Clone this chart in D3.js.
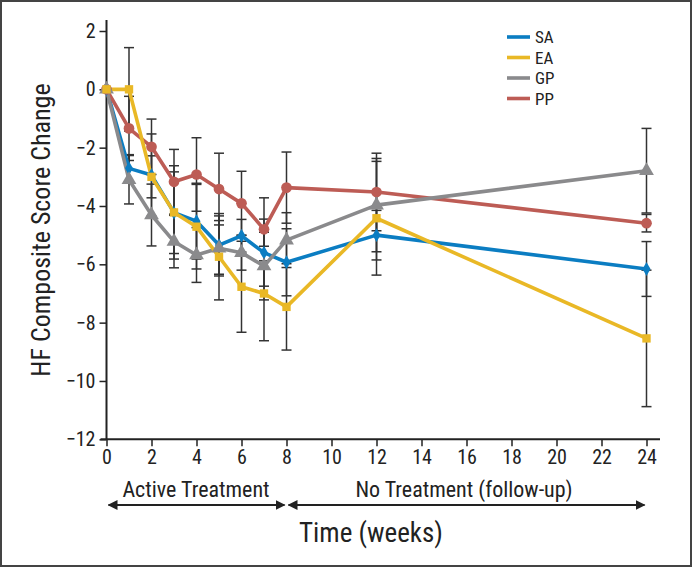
<!DOCTYPE html>
<html><head><meta charset="utf-8">
<script src="https://cdn.jsdelivr.net/npm/d3@7"></script>
<style>
html,body{margin:0;padding:0;background:#fff;}
svg text{font-family:"Liberation Sans Narrow","Roboto Condensed","Liberation Sans",Arial,sans-serif;fill:#222;}
</style></head>
<body>
<svg id="chart" width="692" height="567"></svg>
<script>
// ---- data ----
const weeks = [0, 1, 2, 3, 4, 5, 6, 7, 8, 12, 24];
const seriesNames = ["SA", "EA", "GP", "PP"];
const SA = [0, -2.71, -2.94, -4.23, -4.52, -5.34, -5.02, -5.60, -5.93, -5.00, -6.16];
const EA = [0, 0.0, -3.00, -4.22, -4.71, -5.74, -6.77, -7.00, -7.46, -4.42, -8.54];
const GP = [0, -3.10, -4.31, -5.22, -5.68, -5.45, -5.60, -6.06, -5.17, -3.97, -2.79];
const PP = [0, -1.34, -1.97, -3.17, -2.92, -3.42, -3.91, -4.80, -3.37, -3.52, -4.59];
// symmetric error bar half-widths
const SAerr = [0, 0.47, 1.41, 1.40, 1.30, 1.00, 0.56, 1.15, 1.15, 0.85, 0.94];
const EAerr = [0, 1.43, 0.72, 1.60, 1.45, 1.48, 1.56, 1.62, 1.48, 1.95, 2.34];
const GPerr = [0, 0.83, 1.06, 0.90, 0.94, 0.95, 0.60, 1.16, 0.94, 1.60, 1.45];
const PPerr = [0, 1.10, 0.95, 1.11, 1.26, 1.23, 1.10, 1.08, 1.22, 1.33, 0.30];
const xTicks = [0, 2, 4, 6, 8, 10, 12, 14, 16, 18, 20, 22, 24];
const yTicks = [-12, -10, -8, -6, -4, -2, 0, 2];

const colors = {SA: "#0b7dc2", EA: "#e9b826", GP: "#8a8a8c", PP: "#bd5c55"};
const symbols = {SA: d3.symbolDiamond, EA: d3.symbolSquare, GP: d3.symbolTriangle, PP: d3.symbolCircle};
const symSize = {SA: 55, EA: 70, GP: 95, PP: 90};
const values = {SA, EA, GP, PP};
const errs = {SA: SAerr, EA: EAerr, GP: GPerr, PP: PPerr};

const svg = d3.select("#chart");
// frame
svg.append("rect").attr("x", 1).attr("y", 1).attr("width", 690).attr("height", 565)
  .attr("fill", "#fff").attr("stroke", "#444").attr("stroke-width", 2);

const x = d3.scaleLinear().domain([0, 24]).range([106.5, 646.5]);
const y = d3.scaleLinear().domain([-12, 2]).range([439.3, 31]);

// error bars (behind)
const ebG = svg.append("g").attr("stroke", "#333").attr("stroke-width", 1.5);
seriesNames.forEach(s => {
  weeks.forEach((w, i) => {
    const e = errs[s][i];
    if (!e) return;
    const v = values[s][i];
    const xp = x(w);
    ebG.append("line").attr("x1", xp).attr("x2", xp).attr("y1", y(v + e)).attr("y2", y(v - e));
    [v + e, v - e].forEach(c => {
      ebG.append("line").attr("x1", xp - 5).attr("x2", xp + 5).attr("y1", y(c)).attr("y2", y(c));
    });
  });
});

// axes
const yAxis = d3.axisLeft(y).tickValues(yTicks).tickSize(7).tickPadding(4)
  .tickFormat(d => d < 0 ? "\u2212" + Math.abs(d) : d);
const gy = svg.append("g").attr("transform", `translate(${x(0)},0)`).call(yAxis);
gy.select(".domain").remove();
gy.selectAll("text").attr("font-size", 20);
gy.selectAll("line").attr("stroke", "#222").attr("stroke-width", 1.5);
svg.append("line").attr("x1", x(0)).attr("x2", x(0)).attr("y1", 20).attr("y2", y(-12))
  .attr("stroke", "#222").attr("stroke-width", 2);

const xAxis = d3.axisBottom(x).tickValues(xTicks).tickSize(7).tickPadding(4);
const gx = svg.append("g").attr("transform", `translate(0,${y(-12)})`).call(xAxis);
gx.select(".domain").remove();
gx.selectAll("text").attr("font-size", 20);
gx.selectAll("line").attr("stroke", "#222").attr("stroke-width", 1.5);
svg.append("line").attr("x1", x(0) - 6).attr("x2", 660).attr("y1", y(-12)).attr("y2", y(-12))
  .attr("stroke", "#222").attr("stroke-width", 2);

// lines + markers
const line = d3.line().x((d, i) => x(weeks[i])).y(d => y(d));
const drawOrder = ["SA", "PP", "GP", "EA"];
drawOrder.forEach(s => {
  svg.append("path").datum(values[s]).attr("d", line).attr("fill", "none")
    .attr("stroke", colors[s]).attr("stroke-width", 3.6).attr("stroke-linejoin", "round");
});
drawOrder.forEach(s => {
  svg.append("g").selectAll("path").data(values[s]).join("path")
    .attr("d", d3.symbol().type(symbols[s]).size(symSize[s]))
    .attr("transform", (d, i) => `translate(${x(weeks[i])},${y(d)})`)
    .attr("fill", colors[s]);
});

// legend
const leg = svg.append("g");
seriesNames.forEach((s, i) => {
  const ly = 37 + i * 20.5;
  leg.append("line").attr("x1", 507).attr("x2", 530).attr("y1", ly).attr("y2", ly)
    .attr("stroke", colors[s]).attr("stroke-width", 3.6);
  leg.append("text").attr("x", 535).attr("y", ly + 6).attr("font-size", 17).text(s);
});

// y label
svg.append("text").attr("transform", "translate(50,230) rotate(-90)")
  .attr("text-anchor", "middle").attr("font-size", 26).text("HF Composite Score Change");

// period labels and arrows
svg.append("text").attr("x", 196).attr("y", 497).attr("text-anchor", "middle")
  .attr("font-size", 22).text("Active Treatment");
svg.append("text").attr("x", 464).attr("y", 497).attr("text-anchor", "middle")
  .attr("font-size", 22).text("No Treatment (follow-up)");

const defs = svg.append("defs");
defs.append("marker").attr("id", "ah").attr("viewBox", "0 0 10 10").attr("refX", 9).attr("refY", 5)
  .attr("markerWidth", 5).attr("markerHeight", 5).attr("orient", "auto-start-reverse")
  .append("path").attr("d", "M0,0 L10,5 L0,10 Z").attr("fill", "#222");
[[0, 8], [8, 24]].forEach(([a, b]) => {
  svg.append("line").attr("x1", x(a) + 2).attr("x2", x(b) - 2)
    .attr("y1", 505).attr("y2", 505)
    .attr("stroke", "#222").attr("stroke-width", 2)
    .attr("marker-start", "url(#ah)").attr("marker-end", "url(#ah)");
});

svg.append("text").attr("x", 371).attr("y", 542).attr("text-anchor", "middle")
  .attr("font-size", 27).text("Time (weeks)");
</script>
</body></html>
